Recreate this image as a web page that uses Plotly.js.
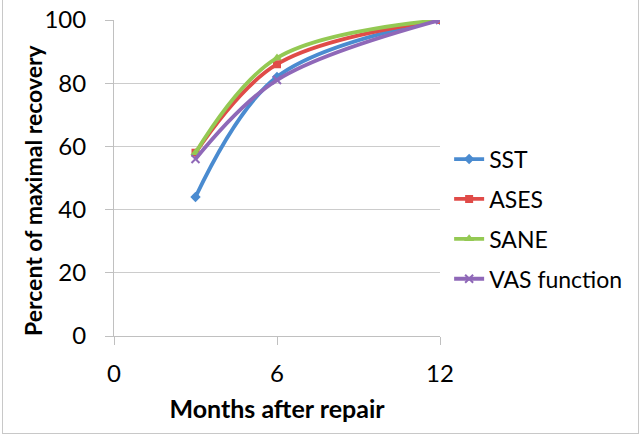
<!DOCTYPE html>
<html><head><meta charset="utf-8">
<script src="https://cdn.plot.ly/plotly-3.0.1.min.js"></script>
<style>
html,body{margin:0;padding:0;background:#fff;}
#frame{position:absolute;left:2px;top:-2px;width:637px;height:436px;border:1px solid #c8c8c8;box-sizing:border-box;}
#chart{position:absolute;left:0;top:0;width:640px;height:435px;}
</style>
</head><body>
<div id="frame"></div>
<div id="chart"></div>
<script>
const months = [3, 6, 12];
const seriesNames = ["SST", "ASES", "SANE", "VAS function"];
const sst = [44, 82, 100];
const ases = [58, 86, 100];
const sane = [58, 88, 100];
const vas = [56, 81, 100];
const xTicks = [0, 6, 12];
const yTicks = [0, 20, 40, 60, 80, 100];
const xTitle = "Months after repair";
const yTitle = "Percent of maximal recovery";

const styles = [
  {color:"#4a8bd0", marker:"diamond", size:8},
  {color:"#e04b48", marker:"square", size:8},
  {color:"#94c953", marker:"triangle-up", size:9},
  {color:"#8f68b8", marker:"x-thin-open", size:8}
];
const values = [sst, ases, sane, vas];
const traces = values.map((v,i)=>({
  x: months, y: v, name: seriesNames[i], type:"scatter", mode:"lines+markers",
  legendgroup: "g"+i,
  line:{color:styles[i].color, width:3.8, shape:"spline", smoothing:1},
  marker:{symbol:styles[i].marker, size:styles[i].size, color:styles[i].color,
          line:{color:styles[i].color, width: i===3?2:0}}
}));

const font = "Lato, 'Open Sans', sans-serif";
const layout = {
  width:640, height:435,
  margin:{l:114, r:200, t:20, b:99, autoexpand:false},
  paper_bgcolor:"rgba(0,0,0,0)", plot_bgcolor:"rgba(0,0,0,0)",
  font:{family:font, size:24, color:"#000"},
  xaxis:{range:[0,12], tickvals:xTicks, ticktext:xTicks.map(String),
    showgrid:false, zeroline:false, showline:true, linecolor:"#c0c0c0", linewidth:1,
    ticks:"outside", ticklen:8, tickcolor:"#c0c0c0", ticklabelstandoff:8,
    title:{text:"<b>"+xTitle+"</b>", font:{family:font, size:25}, standoff:14},
    tickfont:{family:font, size:24}},
  yaxis:{range:[0,100], tickvals:yTicks, ticktext:yTicks.map(String),
    showgrid:true, gridcolor:"#cccccc", gridwidth:1, zeroline:false,
    showline:true, linecolor:"#c0c0c0", linewidth:1,
    ticks:"outside", ticklen:8, tickcolor:"#c0c0c0", ticklabelstandoff:14,
    tickfont:{family:font, size:24}},
  annotations:[{text:"<b>"+yTitle+"</b>", xref:"paper", yref:"paper",
    x:-0.2485, y:0.462, xanchor:"center", yanchor:"middle", textangle:-90,
    showarrow:false, font:{family:font, size:23, color:"#000"}}],
  legend:{x:1.028, y:0.37, xanchor:"left", yanchor:"middle",
    traceorder:"grouped", tracegroupgap:7, font:{family:font, size:23},
    bgcolor:"rgba(0,0,0,0)", itemwidth:30},
  showlegend:true
};
Plotly.newPlot("chart", traces, layout, {displayModeBar:false, staticPlot:true});
</script>
</body></html>
